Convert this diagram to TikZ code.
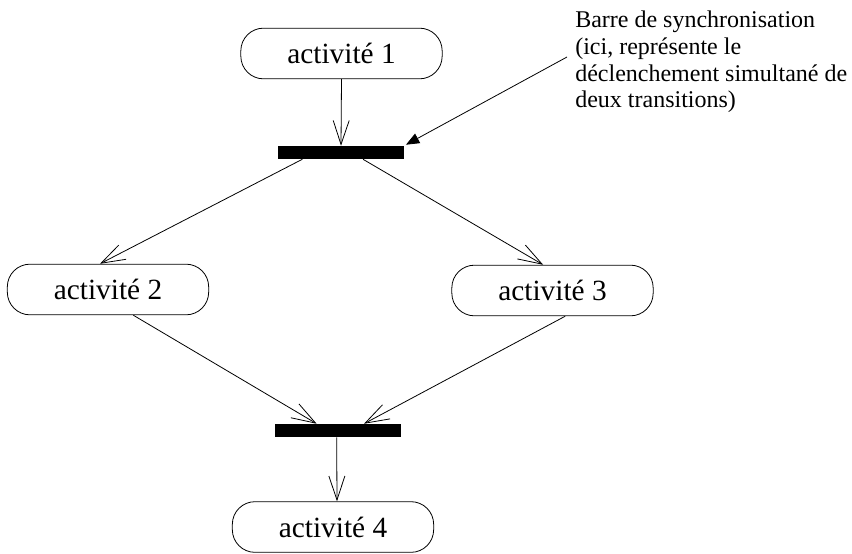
\documentclass[tikz,border=0pt]{standalone}
\usepackage{fontspec}
\setmainfont{Liberation Serif}
\usetikzlibrary{positioning, calc, arrows.meta}

\begin{document}
\begin{tikzpicture}[x=0.75pt, y=-0.75pt,
  activite/.style={draw, line width=0.6pt, rounded corners=17pt, minimum width=151pt, minimum height=38pt, inner sep=0pt, font=\fontsize{22}{26}\selectfont},
  barre/.style={fill=black, draw=none, minimum width=94pt, minimum height=9.75pt, inner sep=0pt},
  trans/.style={-{Straight Barb[length=18pt, width=12pt]}, line width=0.6pt}]

\useasboundingbox (0, 0) rectangle (852, 553);

\node[activite] (act1) at (341.5, 53.5) {activité 1};
\node[barre] (barre1) at (341, 152.5) {};
\node[activite] (act2) at (108, 289.5) {activité 2};
\node[activite] (act3) at (552.5, 290.5) {activité 3};
\node[barre] (barre2) at (338, 430.5) {};
\node[activite] (act4) at (333, 527) {activité 4};

\node[anchor=north west, align=left, inner sep=0pt, font=\fontsize{18}{20}\selectfont] (note) at (575, 11) {Barre de synchronisation\\ (ici, représente le\\ déclenchement simultané de\\ deux transitions)};
\coordinate (notept) at (567, 57);

\draw[trans] (act1.south) -- (barre1.north);
\draw[trans] ([xshift=-29pt]barre1.south) -- ([xshift=-6pt]act2.north);
\draw[trans] ([xshift=16.5pt]barre1.south) -- ([xshift=-7pt]act3.north);
\draw[trans] ([xshift=19pt]act2.south) -- ([xshift=-16pt]barre2.north);
\draw[trans] ([xshift=9.5pt]act3.south) -- ([xshift=19.5pt]barre2.north);
\draw[trans] ([xshift=-1pt]barre2.south) -- ([xshift=3pt]act4.north);

\draw[-{Triangle[length=10pt, width=8pt]}, line width=0.6pt] (notept) -- ([shift={(1.5pt,0.75pt)}]barre1.north east);

\end{tikzpicture}
\end{document}
